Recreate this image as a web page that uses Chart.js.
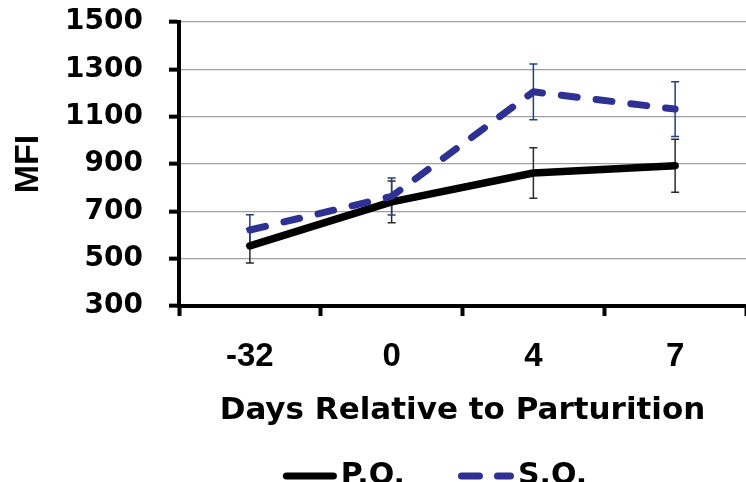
<!DOCTYPE html>
<html>
<head>
<meta charset="utf-8">
<script src="https://cdn.jsdelivr.net/npm/chart.js@4.4.1/dist/chart.umd.min.js"></script>
<style>
  html, body { margin: 0; padding: 0; background: #fff; }
</style>
</head>
<body>
<canvas id="mfiChart" width="746" height="482"></canvas>
<script>
// data
const days = ['-32', '0', '4', '7'];
const poMean = [554, 740, 862, 893];
const poErr = [72, 88, 107, 112];
const soMean = [621, 763, 1205, 1132];
const soErr = [65, 78, 118, 116];
const yTicks = [300, 500, 700, 900, 1100, 1300, 1500];

// little line samples for the legend (drawn as point style images)
function makeSample(segments, color) {
    const c = document.createElement('canvas');
    c.width = 102;
    c.height = 12;
    const g = c.getContext('2d');
    g.strokeStyle = color;
    g.lineWidth = 7;
    g.lineCap = 'round';
    segments.forEach(s => {
        g.beginPath();
        g.moveTo(s[0], 6);
        g.lineTo(s[1], 6);
        g.stroke();
    });
    return c;
}
const samples = [
    makeSample([[50.5, 97.5]], '#000'),
    makeSample([[48.5, 66.5], [84.5, 97.5]], '#2E3192')
];

// vertical error bars with small caps
const errorBars = {
    id: 'errorBars',
    beforeDatasetsDraw(chart) {
        const ctx = chart.ctx;
        const yScale = chart.scales.y;
        chart.data.datasets.forEach((ds, i) => {
            const meta = chart.getDatasetMeta(i);
            ctx.save();
            ctx.strokeStyle = ds.errorColor;
            ctx.lineWidth = 1.5;
            meta.data.forEach((pt, j) => {
                const top = yScale.getPixelForValue(ds.data[j] + ds.errors[j]);
                const bot = yScale.getPixelForValue(ds.data[j] - ds.errors[j]);
                ctx.beginPath();
                ctx.moveTo(pt.x, top);
                ctx.lineTo(pt.x, bot);
                ctx.moveTo(pt.x - 4, top);
                ctx.lineTo(pt.x + 4, top);
                ctx.moveTo(pt.x - 4, bot);
                ctx.lineTo(pt.x + 4, bot);
                ctx.stroke();
            });
            ctx.restore();
        });
    }
};

// nudge the legend row to the left a bit
const legendShift = {
    id: 'legendShift',
    afterLayout(chart) {
        chart.legend.left -= 45;
        chart.legend.right -= 45;
    }
};

new Chart(document.getElementById('mfiChart'), {
    type: 'line',
    data: {
        labels: days,
        datasets: [{
            label: 'P.O.',
            data: poMean,
            errors: poErr,
            errorColor: '#2b2b2b',
            borderColor: '#000',
            borderWidth: 7.5,
            borderCapStyle: 'round',
            borderJoinStyle: 'round',
            pointRadius: 0,
            pointHoverRadius: 0,
            tension: 0,
            order: 2
        }, {
            label: 'S.O.',
            data: soMean,
            errors: soErr,
            errorColor: '#23407E',
            borderColor: '#2E3192',
            borderWidth: 7,
            borderDash: [16, 19],
            borderCapStyle: 'round',
            borderJoinStyle: 'round',
            pointRadius: 0,
            pointHoverRadius: 0,
            tension: 0,
            order: 1
        }]
    },
    options: {
        responsive: false,
        animation: false,
        events: [],
        layout: {
            padding: { top: 22, left: 0, right: 0, bottom: -19 }
        },
        plugins: {
            tooltip: { enabled: false },
            legend: {
                position: 'bottom',
                fullSize: false,
                labels: {
                    usePointStyle: true,
                    pointStyleWidth: 78,
                    boxHeight: 12,
                    padding: 20,
                    color: '#000',
                    font: { family: 'DejaVu Sans', weight: 'bold', size: 30 },
                    generateLabels: chart => chart.data.datasets.map((ds, i) => ({
                        text: ds.label,
                        pointStyle: samples[i],
                        fontColor: '#000',
                        fillStyle: 'transparent',
                        strokeStyle: 'transparent',
                        lineWidth: 0,
                        hidden: false,
                        datasetIndex: i
                    }))
                }
            }
        },
        scales: {
            x: {
                offset: true,
                afterFit: s => { s.height = 135; },
                border: { display: true, color: '#000', width: 4 },
                grid: {
                    offset: true,
                    drawOnChartArea: false,
                    drawTicks: true,
                    tickLength: 10,
                    tickColor: '#000',
                    tickWidth: 4
                },
                ticks: {
                    color: '#000',
                    padding: 21,
                    maxRotation: 0,
                    autoSkip: false,
                    font: { family: 'Liberation Sans', weight: 'bold', size: 33 }
                },
                title: {
                    display: true,
                    text: 'Days Relative to Parturition',
                    color: '#000',
                    font: { family: 'DejaVu Sans', weight: 'bold', size: 31 },
                    padding: { top: 0, bottom: 11 }
                }
            },
            y: {
                min: 300,
                max: 1500,
                afterBuildTicks: s => { s.ticks = yTicks.map(v => ({ value: v })); },
                afterFit: s => {
                    s.width = 179;
                    s.paddingTop = 0;
                    s.paddingBottom = 0;
                },
                border: { display: true, color: '#000', width: 4 },
                grid: {
                    color: '#A0A0A0',
                    lineWidth: 1.3,
                    drawTicks: true,
                    tickLength: 10,
                    tickColor: '#000',
                    tickWidth: 4
                },
                ticks: {
                    color: '#000',
                    padding: 26,
                    font: { family: 'DejaVu Sans', weight: 'bold', size: 28 },
                    callback: v => String(v)
                },
                title: {
                    display: true,
                    text: 'MFI',
                    color: '#000',
                    font: { family: 'Liberation Sans', weight: 'bold', size: 34 },
                    padding: { top: 8, bottom: 0 }
                }
            }
        }
    },
    plugins: [errorBars, legendShift]
});
</script>
</body>
</html>
